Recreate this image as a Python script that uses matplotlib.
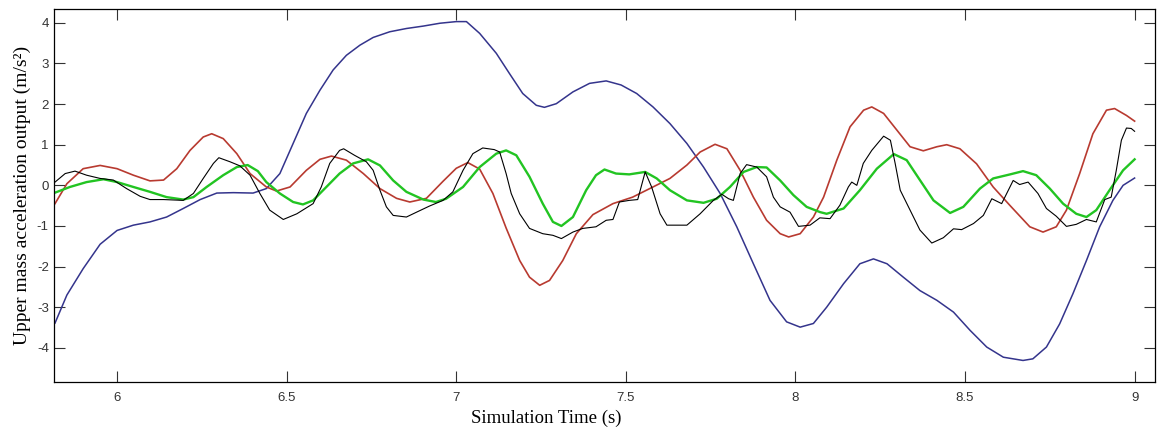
import matplotlib
matplotlib.use("Agg")
import matplotlib.pyplot as plt

plt.rcParams["axes.unicode_minus"] = False

# values (time in s, acceleration in m/s^2)
blue_t = [5.817, 5.852, 5.90, 5.95, 6.00, 6.048, 6.097, 6.146, 6.195, 6.245,
          6.294, 6.343, 6.401, 6.44, 6.48, 6.519, 6.558, 6.598, 6.637, 6.676,
          6.716, 6.755, 6.804, 6.853, 6.903, 6.952, 7.00, 7.03, 7.069, 7.118,
          7.157, 7.196, 7.236, 7.26, 7.295, 7.344, 7.393, 7.442, 7.486, 7.532,
          7.58, 7.63, 7.68, 7.729, 7.778, 7.827, 7.876, 7.925, 7.974, 8.014,
          8.053, 8.092, 8.142, 8.19, 8.23, 8.27, 8.318, 8.367, 8.417, 8.466,
          8.515, 8.564, 8.613, 8.642, 8.671, 8.70, 8.74, 8.779, 8.818, 8.858,
          8.897, 8.936, 8.966, 9.00]
blue_y = [-3.39, -2.70, -2.05, -1.45, -1.11, -0.98, -0.90, -0.78, -0.57, -0.35,
          -0.19, -0.18, -0.19, -0.08, 0.29, 1.03, 1.77, 2.34, 2.84, 3.20,
          3.45, 3.64, 3.78, 3.86, 3.92, 3.99, 4.03, 4.03, 3.74, 3.25,
          2.75, 2.26, 1.97, 1.92, 2.01, 2.30, 2.51, 2.57, 2.47, 2.26,
          1.93, 1.52, 1.03, 0.45, -0.20, -1.02, -1.93, -2.83, -3.36, -3.49,
          -3.40, -3.00, -2.42, -1.93, -1.81, -1.93, -2.26, -2.59, -2.83, -3.12,
          -3.57, -3.98, -4.23, -4.27, -4.31, -4.27, -3.98, -3.41, -2.67, -1.85,
          -1.02, -0.37, 0.00, 0.18]

red_t = [5.817, 5.852, 5.90, 5.95, 6.00, 6.048, 6.097, 6.137, 6.176, 6.215,
         6.254, 6.279, 6.313, 6.353, 6.392, 6.44, 6.47, 6.51, 6.558, 6.598,
         6.632, 6.676, 6.726, 6.775, 6.824, 6.863, 6.912, 6.961, 7.00, 7.034,
         7.069, 7.108, 7.147, 7.187, 7.216, 7.246, 7.275, 7.314, 7.354, 7.403,
         7.462, 7.52, 7.58, 7.63, 7.68, 7.719, 7.763, 7.798, 7.837, 7.876,
         7.915, 7.955, 7.98, 8.014, 8.053, 8.083, 8.122, 8.161, 8.201, 8.225,
         8.26, 8.299, 8.338, 8.377, 8.417, 8.446, 8.485, 8.534, 8.583, 8.633,
         8.691, 8.73, 8.769, 8.799, 8.838, 8.877, 8.917, 8.941, 8.976, 9.00]
red_y = [-0.45, 0.04, 0.41, 0.49, 0.41, 0.25, 0.11, 0.13, 0.41, 0.86,
         1.19, 1.27, 1.15, 0.78, 0.29, -0.04, -0.14, -0.04, 0.37, 0.64,
         0.72, 0.62, 0.29, -0.08, -0.32, -0.41, -0.32, 0.10, 0.42, 0.56,
         0.40, -0.20, -1.05, -1.85, -2.26, -2.46, -2.34, -1.85, -1.19, -0.72,
         -0.45, -0.29, -0.04, 0.17, 0.50, 0.82, 1.01, 0.90, 0.37, -0.29,
         -0.86, -1.19, -1.27, -1.19, -0.78, -0.29, 0.62, 1.44, 1.85, 1.93,
         1.77, 1.36, 0.95, 0.85, 0.95, 1.00, 0.90, 0.53, -0.04, -0.50,
         -1.02, -1.15, -1.02, -0.61, 0.29, 1.27, 1.85, 1.89, 1.72, 1.58]

green_t = [5.817, 5.861, 5.91, 5.96, 6.00, 6.048, 6.097, 6.146, 6.195, 6.225,
           6.264, 6.313, 6.353, 6.385, 6.415, 6.44, 6.48, 6.519, 6.548, 6.578,
           6.617, 6.656, 6.696, 6.74, 6.775, 6.814, 6.853, 6.903, 6.94, 6.97,
           7.02, 7.069, 7.118, 7.147, 7.177, 7.216, 7.255, 7.285, 7.31, 7.344,
           7.383, 7.412, 7.437, 7.471, 7.51, 7.557, 7.591, 7.63, 7.68, 7.729,
           7.768, 7.807, 7.847, 7.886, 7.915, 7.955, 7.994, 8.033, 8.073, 8.092,
           8.142, 8.19, 8.24, 8.29, 8.328, 8.367, 8.407, 8.456, 8.495, 8.544,
           8.583, 8.633, 8.671, 8.71, 8.75, 8.789, 8.828, 8.858, 8.887, 8.926,
           8.966, 9.00]
green_y = [-0.18, -0.04, 0.08, 0.15, 0.08, -0.04, -0.16, -0.29, -0.35, -0.29,
           -0.04, 0.25, 0.45, 0.50, 0.35, 0.08, -0.20, -0.41, -0.47, -0.37,
           -0.04, 0.29, 0.54, 0.64, 0.49, 0.12, -0.16, -0.35, -0.41, -0.33,
           -0.04, 0.45, 0.78, 0.86, 0.74, 0.21, -0.45, -0.90, -1.00, -0.78,
           -0.12, 0.25, 0.39, 0.29, 0.27, 0.33, 0.17, -0.12, -0.37, -0.43,
           -0.33, -0.04, 0.33, 0.45, 0.44, 0.12, -0.24, -0.53, -0.66, -0.70,
           -0.57, -0.12, 0.41, 0.77, 0.62, 0.13, -0.37, -0.68, -0.53, -0.08,
           0.17, 0.27, 0.35, 0.25, -0.08, -0.45, -0.70, -0.78, -0.61, -0.12,
           0.37, 0.64]

black_t = [5.817, 5.847, 5.876, 5.91, 5.95, 5.989, 6.028, 6.068, 6.097, 6.137,
           6.195, 6.225, 6.254, 6.284, 6.30, 6.333, 6.362, 6.392, 6.421, 6.45,
           6.49, 6.53, 6.578, 6.602, 6.627, 6.656, 6.668, 6.70, 6.735, 6.755,
           6.775, 6.794, 6.814, 6.853, 6.883, 6.921, 6.961, 6.99, 7.02, 7.049,
           7.078, 7.112, 7.128, 7.147, 7.162, 7.187, 7.216, 7.255, 7.285, 7.31,
           7.344, 7.373, 7.412, 7.442, 7.462, 7.481, 7.51, 7.535, 7.557, 7.576,
           7.601, 7.621, 7.68, 7.719, 7.758, 7.783, 7.803, 7.817, 7.837, 7.856,
           7.886, 7.915, 7.935, 7.955, 7.984, 8.009, 8.043, 8.072, 8.102, 8.131,
           8.156, 8.166, 8.181, 8.20, 8.225, 8.26, 8.28, 8.294, 8.309, 8.338,
           8.367, 8.402, 8.436, 8.466, 8.49, 8.525, 8.554, 8.579, 8.608, 8.642,
           8.661, 8.686, 8.715, 8.74, 8.769, 8.799, 8.828, 8.858, 8.887, 8.912,
           8.931, 8.946, 8.961, 8.976, 8.99, 9.00]
black_y = [0.08, 0.29, 0.35, 0.25, 0.17, 0.13, -0.08, -0.27, -0.35, -0.35,
           -0.37, -0.20, 0.17, 0.54, 0.68, 0.58, 0.48, 0.25, -0.20, -0.61,
           -0.84, -0.70, -0.45, -0.04, 0.54, 0.86, 0.90, 0.74, 0.58, 0.37,
           -0.12, -0.53, -0.74, -0.78, -0.66, -0.51, -0.37, -0.16, 0.37, 0.78,
           0.92, 0.88, 0.82, 0.29, -0.20, -0.70, -1.06, -1.19, -1.23, -1.31,
           -1.15, -1.06, -1.02, -0.86, -0.84, -0.41, -0.37, -0.35, 0.33, -0.04,
           -0.70, -0.98, -0.98, -0.70, -0.37, -0.22, -0.33, -0.37, 0.29, 0.51,
           0.45, 0.21, -0.29, -0.53, -0.66, -1.01, -0.98, -0.80, -0.82, -0.49,
           -0.04, 0.08, 0.00, 0.54, 0.86, 1.21, 1.11, 0.54, -0.12, -0.61,
           -1.10, -1.42, -1.29, -1.07, -1.09, -0.94, -0.74, -0.33, -0.45, 0.12,
           0.02, 0.08, -0.20, -0.57, -0.76, -1.01, -0.96, -0.84, -0.90, -0.35,
           -0.29, 0.37, 1.11, 1.41, 1.40, 1.33]

x_ticks = [6, 6.5, 7, 7.5, 8, 8.5, 9]
x_ticklabels = ["6", "6.5", "7", "7.5", "8", "8.5", "9"]
y_ticks = [-4, -3, -2, -1, 0, 1, 2, 3, 4]

fig = plt.figure(figsize=(11.61, 4.33), dpi=100)
ax = fig.add_axes([0.0468, 0.1178, 0.948, 0.8614])

ax.plot(blue_t, blue_y, color="#34348c", lw=1.1)
ax.plot(red_t, red_y, color="#b83a30", lw=1.2)
ax.plot(green_t, green_y, color="#22c422", lw=1.7)
ax.plot(black_t, black_y, color="black", lw=0.8)

ax.set_xlim(5.815, 9.06)
ax.set_ylim(-4.84, 4.34)
ax.set_xticks(x_ticks)
ax.set_xticklabels(x_ticklabels)
ax.set_yticks(y_ticks)
ax.tick_params(direction="in", length=8, width=0.8, top=True, right=True,
               labelsize=9.5, colors="#333333", pad=7)
ax.tick_params(axis="y", pad=4)
for lab in ax.get_xticklabels() + ax.get_yticklabels():
    lab.set_fontfamily("Liberation Sans")
for s in ax.spines.values():
    s.set_linewidth(0.9)

ax.set_xlabel("Simulation Time (s)", fontfamily="Liberation Serif", fontsize=13.5, va="center")
ax.xaxis.set_label_coords(0.4467, -0.0966)
ax.set_ylabel("Upper mass acceleration output (m/s²)", fontfamily="Liberation Serif",
              fontsize=14, va="center")
ax.yaxis.set_label_coords(-0.0293, 0.5)

fig.savefig("out.png", dpi=100)
